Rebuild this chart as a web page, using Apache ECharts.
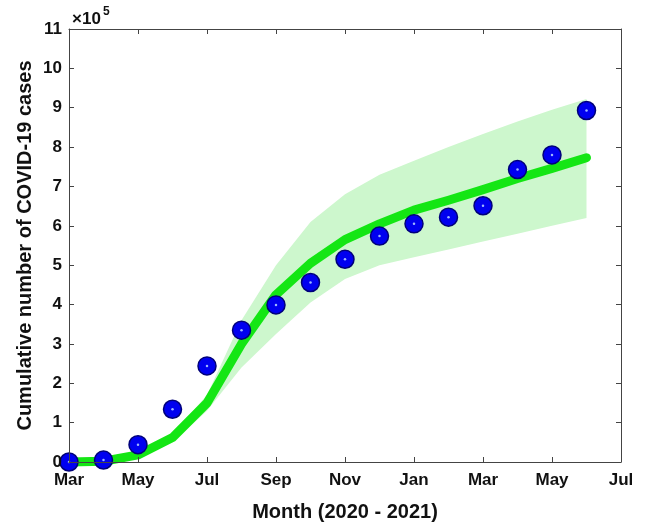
<!DOCTYPE html>
<html><head><meta charset="utf-8">
<script src="https://cdn.jsdelivr.net/npm/echarts@6/dist/echarts.min.js"></script>
<style>html,body{margin:0;padding:0;background:#fff}#c{width:646px;height:527px}</style>
</head><body><div id="c"></div>
<script>
// months since March 2020
const monthIndex = [0,1,2,3,4,5,6,7,8,9,10,11,12,13,14,15];
const monthTickLabels = ['Mar','May','Jul','Sep','Nov','Jan','Mar','May','Jul'];
// observed cumulative cases
const observedCases = [0, 5000, 44000, 134000, 244000, 335000, 399000, 456000, 515000, 574000, 605000, 622000, 651000, 743000, 780000, 893000];
// fitted model
const fittedCases = [0, 2000, 18000, 62000, 150000, 300000, 425000, 505000, 565000, 605000, 640000, 665000, 692000, 720000, 746000, 773000];
// confidence band
const bandLower = [0, 1000, 10000, 50000, 130000, 240000, 325000, 405000, 465000, 500000, 520000, 540000, 560000, 580000, 600000, 620000];
const bandUpper = [0, 3000, 20000, 70000, 170000, 360000, 500000, 610000, 680000, 730000, 765000, 800000, 833000, 865000, 895000, 922000];

const pairs = (ys) => monthIndex.map((m, i) => [m, ys[i]]);
const bandData = monthIndex.map((m, i) => [m, bandLower[i], bandUpper[i]]);

const FONT = '"Liberation Sans", Arial, sans-serif';
const axisColor = '#444';
const chart = echarts.init(document.getElementById('c'));
chart.setOption({
  animation: false,
  backgroundColor: '#fff',
  grid: { left: 69, right: 25, top: 29, bottom: 64 },
  xAxis: [{
    type: 'value', min: 0, max: 16, interval: 2, z: 10,
    name: 'Month (2020 - 2021)', nameLocation: 'middle', nameGap: 40,
    nameTextStyle: { fontFamily: FONT, fontWeight: 'bold', fontSize: 20, color: '#111' },
    axisLine: { show: true, onZero: false, lineStyle: { color: axisColor, width: 1 } },
    axisTick: { show: true, inside: true, length: 5, lineStyle: { color: axisColor } },
    axisLabel: { fontFamily: FONT, fontWeight: 'bold', fontSize: 17, color: '#111', margin: 10,
      formatter: v => monthTickLabels[Math.round(v / 2)] },
    splitLine: { show: false }
  }, {
    type: 'value', position: 'top', min: 0, max: 16, interval: 2, z: 10,
    axisLine: { show: true, onZero: false, lineStyle: { color: axisColor, width: 1 } },
    axisTick: { show: true, inside: true, length: 5, lineStyle: { color: axisColor } },
    axisLabel: { show: false }, splitLine: { show: false }
  }],
  yAxis: [{
    type: 'value', min: 0, max: 1100000, interval: 100000, z: 10,
    name: 'Cumulative number of COVID-19 cases', nameLocation: 'middle', nameGap: 34,
    nameMoveOverlap: false,
    nameTextStyle: { fontFamily: FONT, fontWeight: 'bold', fontSize: 20, color: '#111' },
    axisLine: { show: true, onZero: false, lineStyle: { color: axisColor, width: 1 } },
    axisTick: { show: true, inside: true, length: 5, lineStyle: { color: axisColor } },
    axisLabel: { fontFamily: FONT, fontWeight: 'bold', fontSize: 17, color: '#111', margin: 7,
      formatter: v => String(Math.round(v / 100000)) },
    splitLine: { show: false }
  }, {
    type: 'value', position: 'right', min: 0, max: 1100000, interval: 100000, z: 10,
    axisLine: { show: true, onZero: false, lineStyle: { color: axisColor, width: 1 } },
    axisTick: { show: true, inside: true, length: 5, lineStyle: { color: axisColor } },
    axisLabel: { show: false }, splitLine: { show: false }
  }],
  graphic: [
    { type: 'text', left: 72, top: 11, style: { text: '×10', font: 'bold 17px ' + FONT, fill: '#111' } },
    { type: 'text', left: 103, top: 6, style: { text: '5', font: 'bold 12px ' + FONT, fill: '#111' } }
  ],
  series: [
    { type: 'custom', data: bandData, silent: true, z: 1, clip: false,
      renderItem: (params, api) => {
        if (params.dataIndex !== 0) return null;
        const upper = bandData.map(d => api.coord([d[0], d[2]]));
        const lower = bandData.map(d => api.coord([d[0], d[1]])).reverse();
        return { type: 'polygon', shape: { points: upper.concat(lower) },
          style: { fill: '#cdf7cd', stroke: null } };
      } },
    { type: 'line', data: pairs(fittedCases), symbol: 'none', clip: false,
      lineStyle: { color: '#14e614', width: 9, join: 'round', cap: 'round' }, z: 3 },
    { type: 'scatter', data: pairs(observedCases), symbol: 'circle', symbolSize: 18, clip: false,
      itemStyle: { color: '#0000f0', borderColor: '#00007a', borderWidth: 1.5, opacity: 1 }, z: 4 },
    { type: 'scatter', data: pairs(observedCases), symbol: 'circle', symbolSize: 2.5, clip: false,
      silent: true, itemStyle: { color: '#9fb8ff', opacity: 1 }, z: 5 }
  ]
});
</script>
</body></html>
